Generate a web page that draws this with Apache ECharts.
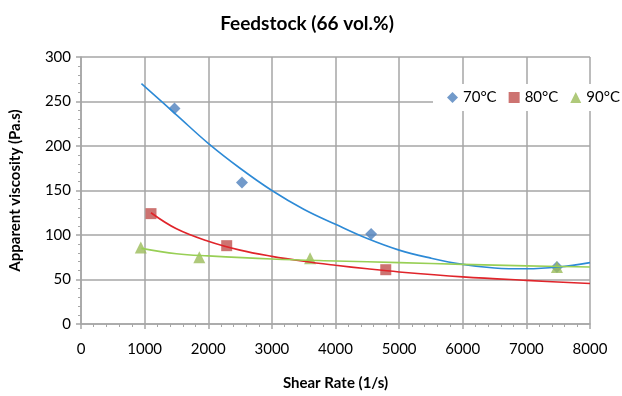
<!DOCTYPE html>
<html>
<head>
<meta charset="utf-8">
<script src="https://cdn.jsdelivr.net/npm/echarts@6/dist/echarts.min.js"></script>
<style>
  html, body { margin: 0; padding: 0; background: #fff; }
  #chart { width: 622px; height: 396px; }
</style>
</head>
<body>
<div id="chart"></div>
<script>
// measured points (shear rate, viscosity)
var pts70 = [[1470, 242], [2530, 159], [4560, 101], [7480, 64]];
var pts80 = [[1100, 124], [2290, 88], [4790, 61]];
var pts90 = [[940, 86], [1860, 75], [3600, 74], [7480, 64]];

// trendlines
var fit70 = [[950, 270], [1500, 235], [2000, 203], [2500, 175], [3000, 150], [3500, 129], [4000, 112],
  [4500, 96], [5000, 83], [5500, 74], [6000, 67], [6500, 63], [7000, 62], [7500, 64], [8000, 69]];
var fit80 = [[1100, 125], [1500, 107], [2000, 93], [2500, 83], [3000, 76], [3500, 70.5], [4000, 66],
  [4500, 62], [5000, 58.5], [6000, 53], [7000, 49], [8000, 45.5]];
var fit90 = [[950, 85], [1500, 79], [2000, 76.5], [3000, 73], [4000, 70.8], [5000, 69], [6000, 67],
  [7000, 65.3], [8000, 64]];

var names = ['70°C', '80°C', '90°C'];
var markColors = ['#4f81bd', '#c0504d', '#9bbb59'];
var lineColors = ['#2d8ad6', '#e0242a', '#98cf55'];

var font = 'Lato, "Open Sans", sans-serif';
var gridColor = '#a6a6a6';

var chart = echarts.init(document.getElementById('chart'));

function fitLine(data, color) {
  return {
    type: 'line',
    data: data,
    smooth: 0.4,
    showSymbol: false,
    silent: true,
    lineStyle: {color: color, width: 1.6},
    z: 3
  };
}

chart.setOption({
  animation: false,
  textStyle: {fontFamily: font},
  title: {
    text: 'Feedstock (66 vol.%)',
    left: 302,
    textAlign: 'center',
    top: 9,
    textStyle: {fontFamily: font, fontSize: 19, fontWeight: 'bold', color: '#000'}
  },
  legend: {
    data: [
      {name: names[0], icon: 'diamond'},
      {name: names[1], icon: 'rect'},
      {name: names[2], icon: 'triangle'}
    ],
    orient: 'horizontal',
    left: 433,
    top: 84,
    width: 210,
    padding: [6, 2, 6, 14],
    backgroundColor: '#fff',
    itemWidth: 11,
    itemHeight: 11,
    itemGap: 12,
    textStyle: {fontFamily: font, fontSize: 15, color: '#000'}
  },
  grid: {left: 80, right: 32, top: 57, bottom: 71},
  xAxis: {
    type: 'value',
    min: 0,
    max: 8000,
    interval: 1000,
    name: 'Shear Rate (1/s)',
    nameLocation: 'middle',
    nameGap: 52,
    nameTextStyle: {fontFamily: font, fontSize: 15, fontWeight: 'bold', color: '#000'},
    axisLine: {show: true, lineStyle: {color: gridColor, width: 1.5}},
    axisTick: {show: true, length: 5, lineStyle: {color: gridColor, width: 1.5}},
    minorTick: {show: true, splitNumber: 5, length: 3, lineStyle: {color: gridColor}},
    axisLabel: {fontFamily: font, fontSize: 15, color: '#000', margin: 18,
      formatter: function (v) { return String(v); }},
    splitLine: {show: true, lineStyle: {color: gridColor, width: 1.5}}
  },
  yAxis: {
    type: 'value',
    min: 0,
    max: 300,
    interval: 50,
    name: 'Apparent viscosity (Pa.s)',
    nameLocation: 'middle',
    nameGap: 58,
    nameTextStyle: {fontFamily: font, fontSize: 15, fontWeight: 'bold', color: '#000'},
    axisLine: {show: true, lineStyle: {color: gridColor, width: 1.5}},
    axisTick: {show: true, length: 5, lineStyle: {color: gridColor, width: 1.5}},
    minorTick: {show: true, splitNumber: 5, length: 3, lineStyle: {color: gridColor}},
    axisLabel: {fontFamily: font, fontSize: 15, color: '#000', margin: 10},
    splitLine: {show: true, lineStyle: {color: gridColor, width: 1.5}}
  },
  series: [
    {name: names[0], type: 'scatter', data: pts70, symbol: 'diamond', symbolSize: 12,
      itemStyle: {color: markColors[0]}, z: 2},
    {name: names[1], type: 'scatter', data: pts80, symbol: 'rect', symbolSize: 11,
      itemStyle: {color: markColors[1]}, z: 2},
    {name: names[2], type: 'scatter', data: pts90, symbol: 'triangle', symbolSize: 12,
      itemStyle: {color: markColors[2]}, z: 2},
    fitLine(fit70, lineColors[0]),
    fitLine(fit80, lineColors[1]),
    fitLine(fit90, lineColors[2])
  ]
});
</script>
</body>
</html>
